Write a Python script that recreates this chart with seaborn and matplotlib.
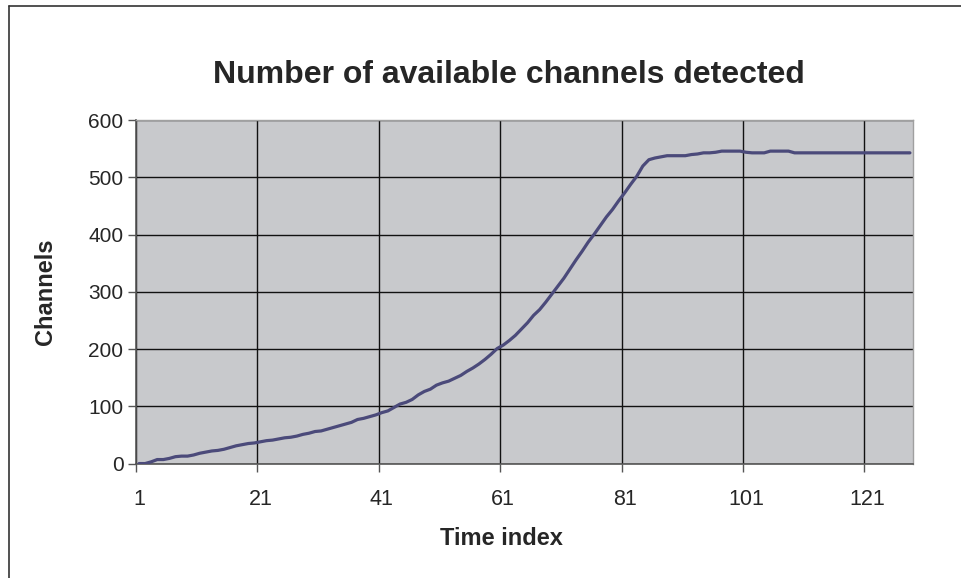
import numpy as np
import pandas as pd
import matplotlib
matplotlib.use("Agg")
import matplotlib.pyplot as plt
import seaborn as sns
from matplotlib.lines import Line2D

# Number of available channels detected at each time index
time_index = list(range(1, 129))
channels = [
    0, 0, 3, 7, 7, 9, 12, 13, 13, 15,
    18, 20, 22, 23, 25, 28, 31, 33, 35, 36,
    38, 40, 41, 43, 45, 46, 48, 51, 53, 56,
    57, 60, 63, 66, 69, 72, 77, 79, 82, 85,
    89, 92, 98, 104, 107, 112, 120, 126, 130, 137,
    141, 144, 149, 154, 161, 167, 174, 182, 191, 201,
    207, 215, 224, 235, 246, 259, 269, 282, 296, 310,
    324, 340, 356, 371, 387, 401, 416, 431, 444, 459,
    473, 488, 502, 520, 531, 534, 536, 538, 538, 538,
    538, 540, 541, 543, 543, 544, 546, 546, 546, 546,
    544, 543, 543, 543, 546, 546, 546, 546, 543, 543,
    543, 543, 543, 543, 543, 543, 543, 543, 543, 543,
    543, 543, 543, 543, 543, 543, 543, 543,
]
x_labels = [1, 21, 41, 61, 81, 101, 121]
y_ticks = [0, 100, 200, 300, 400, 500, 600]

df = pd.DataFrame({"Time index": time_index, "Channels": channels})

sns.set_theme(style="white")
plt.rcParams["font.family"] = ["Liberation Sans", "DejaVu Sans"]

fig = plt.figure(figsize=(9.61, 5.78), dpi=100)
ax = fig.add_axes([0.1415, 0.198, 0.8085, 0.594])
ax.set_facecolor("#c8c9cc")

sns.lineplot(data=df, x="Time index", y="Channels", ax=ax,
             color="#4b4a7a", linewidth=2.3, zorder=3)

n = len(time_index)
ax.set_xlim(0.5, n + 0.5)
ax.set_ylim(0, 600)

# category boundaries carry the tick marks and vertical gridlines
bounds = [0.5 + 20 * k for k in range(7)]
ax.set_xticks(bounds)
ax.set_xticklabels([""] * len(bounds))
ax.set_xticks(x_labels, minor=True)
ax.set_xticklabels([str(v) for v in x_labels], minor=True, fontsize=15.5)
ax.tick_params(axis="x", which="major", direction="out", length=6,
               width=1, color="#555555", bottom=True)
ax.tick_params(axis="x", which="minor", length=0, pad=18, bottom=True)

ax.set_yticks(y_ticks)
ax.set_yticklabels([str(v) for v in y_ticks], fontsize=15)
ax.tick_params(axis="y", direction="out", length=6, width=1,
               color="#555555", left=True, pad=3)

ax.grid(True, which="major", color="#111111", linewidth=1.0, zorder=1)
ax.set_axisbelow(True)

for side in ["left", "bottom"]:
    ax.spines[side].set_color("#555555")
    ax.spines[side].set_linewidth(1.2)
for side in ["right", "top"]:
    ax.spines[side].set_visible(True)
    ax.spines[side].set_color("#a0a0a0")
    ax.spines[side].set_linewidth(1.0)

ax.set_xlabel("Time index", fontsize=17, fontweight="bold")
ax.set_ylabel("Channels", fontsize=17, fontweight="bold")
ax.xaxis.set_label_coords(0.47, -0.185)
ax.yaxis.set_label_coords(-0.102, 0.5)
fig.text(0.53, 0.87, "Number of available channels detected",
         ha="center", va="center", fontsize=23, fontweight="bold")

# chart area border
fig.add_artist(Line2D([0.009, 0.009], [0.0, 0.99], color="#333333",
                      linewidth=1.2, transform=fig.transFigure))
fig.add_artist(Line2D([0.009, 1.0], [0.99, 0.99], color="#333333",
                      linewidth=1.2, transform=fig.transFigure))

fig.savefig("out.png", dpi=100)
